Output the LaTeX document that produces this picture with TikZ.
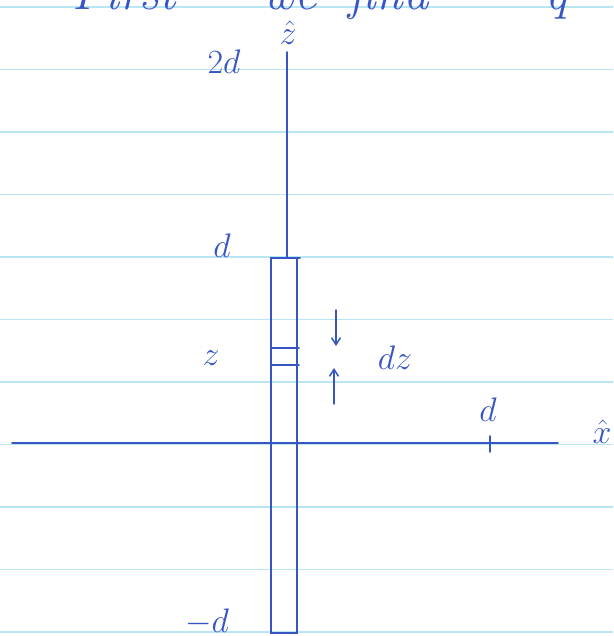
\RequirePackage{fix-cm}
\documentclass[tikz,border=0pt]{standalone}
\usepackage{amsmath}
\usetikzlibrary{arrows.meta}
\begin{document}
\begin{tikzpicture}[x=1pt,y=-1pt,
  ink/.style={draw=inkblue,line width=1.7pt,line cap=round},
  rule/.style={draw=ruleblue,line width=1.3pt},
  lbl/.style={text=inkblue,inner sep=0pt,font=\fontsize{34}{34}\selectfont},
  toptext/.style={text=inkblue,inner sep=0pt,anchor=base west,font=\fontsize{50}{50}\selectfont\itshape},
  arr/.style={ink,line width=1.5pt,-{Straight Barb[length=7pt,width=9pt]}}]
\definecolor{inkblue}{RGB}{55,85,195}
\definecolor{ruleblue}{RGB}{185,230,245}
\useasboundingbox (0,0) rectangle (613,636);
\fill[white] (0,0) rectangle (613,636);
\begin{scope}
\clip (0,0) rectangle (613,636);
% ruled lines
\foreach \yy in {7,69.5,132,194.5,257,319.5,382,444.5,507,569.5,632}
  \draw[rule] (0,\yy) -- (613,\yy);
% partial top text
\node[toptext] (w1) at (72,10) {First};
\node[toptext] (w2) at (262,10) {we};
\node[toptext] (w3) at (348,10) {find};
\node[toptext] (w4) at (545,10) {q};
% z axis
\coordinate (ztop) at (287,52);
\coordinate (rodtop) at (287,258);
\draw[ink] (ztop) -- (rodtop);
% rod
\coordinate (rodTL) at (271,258);
\coordinate (rodBR) at (297,633);
\draw[ink] (rodTL) rectangle (rodBR);
\draw[ink] (297,258) -- (300,258);
% slice
\coordinate (s1L) at (271,348);
\coordinate (s1R) at (299,348);
\coordinate (s2L) at (271,365);
\coordinate (s2R) at (299,365);
\draw[ink] (s1L) -- (s1R);
\draw[ink] (s2L) -- (s2R);
% x axis
\coordinate (xl) at (12,443);
\coordinate (xr) at (558,443);
\draw[ink] (xl) -- (xr);
\coordinate (tickT) at (490,436);
\coordinate (tickB) at (490,452);
\draw[ink] (tickT) -- (tickB);
% dz arrows
\coordinate (a1s) at (336,310);
\coordinate (a1e) at (336,346);
\coordinate (a2s) at (334,404);
\coordinate (a2e) at (334,368);
\draw[arr] (a1s) -- (a1e);
\draw[arr] (a2s) -- (a2e);
% labels
\node[lbl] (zhat) at (288,33) {$\hat{z}$};
\node[lbl] (l2d) at (224,62) {$2d$};
\node[lbl] (ld) at (222,246) {$d$};
\node[lbl] (lz) at (211,358) {$z$};
\node[lbl] (ldz) at (395,358) {$dz$};
\node[lbl] (lxd) at (488,410) {$d$};
\node[lbl] (xhat) at (602,432) {$\hat{x}$};
\node[lbl] (lmd) at (207,622) {$-d$};
\end{scope}
\end{tikzpicture}
\end{document}
